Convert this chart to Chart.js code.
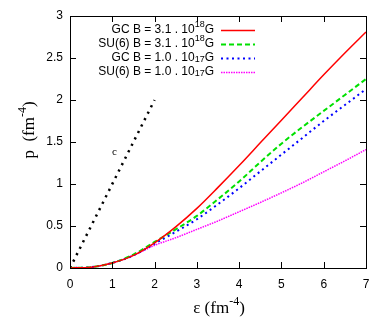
<!DOCTYPE html>
<html>
<head>
<meta charset="utf-8">
<script src="https://cdn.jsdelivr.net/npm/chart.js@4"></script>
<style>
html, body { margin: 0; padding: 0; background: #fff; }
</style>
</head>
<body>
<canvas id="eosChart" width="382" height="327"></canvas>
<script>
// energy density (fm^-4)
var epsilon = [0, 0.5, 1, 1.5, 2, 2.5, 3, 3.5, 4, 4.5, 5, 5.5, 6, 6.5, 7];
// pressure (fm^-4)
var gcHigh  = [0, 0.01, 0.06, 0.15, 0.30, 0.49, 0.71, 0.96, 1.22, 1.49, 1.76, 2.03, 2.30, 2.56, 2.81];
var su6High = [0, 0.01, 0.06, 0.16, 0.31, 0.46, 0.62, 0.82, 1.03, 1.26, 1.48, 1.68, 1.87, 2.06, 2.25];
var gcLow   = [0, 0.01, 0.06, 0.15, 0.29, 0.43, 0.58, 0.76, 0.95, 1.15, 1.35, 1.55, 1.75, 1.94, 2.13];
var su6Low  = [0, 0.01, 0.06, 0.15, 0.27, 0.36, 0.46, 0.56, 0.67, 0.78, 0.895, 1.015, 1.145, 1.275, 1.41];
// causal limit p = eps
var causalX = [0, 2];
var causalY = [0, 2];

var xTicks = [0, 1, 2, 3, 4, 5, 6, 7];
var yTicks = [0, 0.5, 1, 1.5, 2, 2.5, 3];

// label pieces: text, exponent, tail, exponent placement
var legendLabels = [
    ['GC B = 3.1 . 10', '18', 'G', 'sup'],
    ['SU(6) B = 3.1 . 10', '18', 'G', 'sup'],
    ['GC B = 1.0 . 10', '17', 'G', 'sub'],
    ['SU(6) B = 1.0 . 10', '17', 'G', 'sub']
];
var colors = ['#ff0000', '#00e000', '#0000ff', '#ff00ff'];
var dashes = [[], [5, 3], [2, 3.5], [1.5, 1]];
var widths = [1.5, 2, 2, 1.5];

function pts(xs, ys) {
    return xs.map(function (x, i) { return { x: x, y: ys[i] }; });
}

var series = [gcHigh, su6High, gcLow, su6Low];
var datasets = series.map(function (s, i) {
    return {
        label: legendLabels[i].slice(0, 3).join(''),
        data: pts(epsilon, s),
        borderColor: colors[i],
        borderWidth: widths[i],
        borderDash: dashes[i],
        pointRadius: 0,
        cubicInterpolationMode: 'monotone',
        fill: false
    };
});
datasets.push({
    label: 'c',
    data: pts(causalX, causalY),
    borderColor: '#000',
    borderWidth: 2.5,
    borderDash: [2.2, 5],
    pointRadius: 0,
    fill: false
});

var sans = '"Liberation Sans", Arial, sans-serif';
var serif = '"Liberation Serif", "Times New Roman", serif';

function piecesWidth(ctx, parts) {
    var w = 0;
    parts.forEach(function (p) { ctx.font = p.font; w += ctx.measureText(p.t).width; });
    return w;
}
function drawPieces(ctx, parts, x, y) {
    parts.forEach(function (p) {
        ctx.font = p.font;
        ctx.fillText(p.t, x, y + (p.dy || 0));
        x += ctx.measureText(p.t).width;
    });
}

var decor = {
    id: 'decor',
    afterDraw: function (chart) {
        var ctx = chart.ctx, a = chart.chartArea;
        var xs = chart.scales.x, ys = chart.scales.y;
        ctx.save();
        ctx.strokeStyle = '#000';
        ctx.lineWidth = 1;
        ctx.setLineDash([]);
        ctx.strokeRect(a.left + 0.5, a.top + 0.5, a.right - a.left, a.bottom - a.top);
        ctx.beginPath();
        xTicks.forEach(function (v) {
            var px = Math.round(xs.getPixelForValue(v)) + 0.5;
            ctx.moveTo(px, a.bottom); ctx.lineTo(px, a.bottom - 6);
            ctx.moveTo(px, a.top); ctx.lineTo(px, a.top + 6);
        });
        yTicks.forEach(function (v) {
            var py = Math.round(ys.getPixelForValue(v)) + 0.5;
            ctx.moveTo(a.left, py); ctx.lineTo(a.left + 6, py);
            ctx.moveTo(a.right, py); ctx.lineTo(a.right - 6, py);
        });
        ctx.stroke();

        // legend
        ctx.fillStyle = '#000';
        ctx.textBaseline = 'middle';
        legendLabels.forEach(function (lab, i) {
            var y = 30 + i * 14;
            var parts = [
                { t: lab[0], font: '12px ' + sans },
                { t: lab[1], font: '9px ' + sans, dy: lab[3] === 'sup' ? -5 : 2 },
                { t: lab[2], font: '12px ' + sans }
            ];
            var w = piecesWidth(ctx, parts);
            drawPieces(ctx, parts, 214 - w, y);
            ctx.beginPath();
            ctx.strokeStyle = colors[i];
            ctx.lineWidth = widths[i];
            ctx.setLineDash(dashes[i]);
            ctx.moveTo(221, y + 0.5);
            ctx.lineTo(255, y + 0.5);
            ctx.stroke();
        });
        ctx.setLineDash([]);

        // c label
        ctx.font = '11px ' + serif;
        ctx.textAlign = 'center';
        ctx.fillText('c', xs.getPixelForValue(1.05), ys.getPixelForValue(1.38));
        ctx.textAlign = 'left';

        // x title
        var xt = [
            { t: '\u03b5 (fm', font: '17px ' + serif },
            { t: '-4', font: '12px ' + serif, dy: -8 },
            { t: ')', font: '17px ' + serif }
        ];
        ctx.textBaseline = 'alphabetic';
        var xw = piecesWidth(ctx, xt);
        drawPieces(ctx, xt, (a.left + a.right) / 2 - xw / 2 + 1, 313);

        // y title
        var yt = [
            { t: 'p  (fm', font: '17px ' + serif },
            { t: '-4', font: '12px ' + serif, dy: -8 },
            { t: ')', font: '17px ' + serif }
        ];
        var yw = piecesWidth(ctx, yt);
        ctx.translate(34, 130);
        ctx.rotate(-Math.PI / 2);
        drawPieces(ctx, yt, -yw / 2, 0);
        ctx.restore();
    }
};

function plainLabel(v) { return String(v); }

new Chart(document.getElementById('eosChart'), {
    type: 'line',
    data: { datasets: datasets },
    options: {
        responsive: false,
        animation: false,
        layout: { padding: { top: 16, right: 16, left: 0, bottom: 0 } },
        plugins: { legend: { display: false }, tooltip: { enabled: false } },
        scales: {
            x: {
                type: 'linear', min: 0, max: 7,
                afterBuildTicks: function (s) { s.ticks = xTicks.map(function (v) { return { value: v }; }); },
                afterFit: function (s) { s.height = 59; },
                grid: { display: false, drawTicks: false },
                border: { display: false },
                ticks: { padding: 9, color: '#000', font: { family: sans, size: 12 }, maxRotation: 0, callback: plainLabel }
            },
            y: {
                type: 'linear', min: 0, max: 3,
                afterBuildTicks: function (s) { s.ticks = yTicks.map(function (v) { return { value: v }; }); },
                afterFit: function (s) { s.width = 70; },
                grid: { display: false, drawTicks: false },
                border: { display: false },
                ticks: { padding: 7, color: '#000', font: { family: sans, size: 12 }, callback: plainLabel }
            }
        }
    },
    plugins: [decor]
});
</script>
</body>
</html>
